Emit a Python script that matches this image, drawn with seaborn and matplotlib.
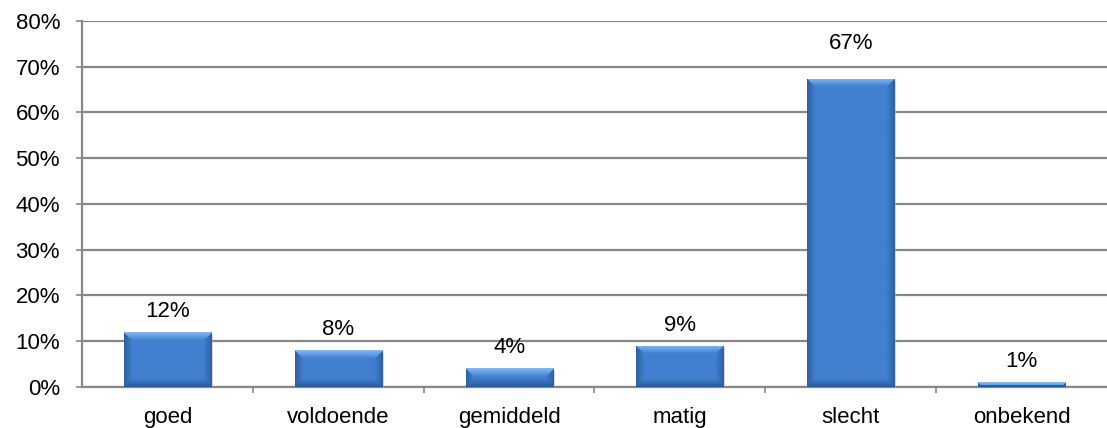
import numpy as np
import pandas as pd
import matplotlib
matplotlib.use("Agg")
import matplotlib.pyplot as plt
import seaborn as sns
from matplotlib.colors import to_rgb

categories = ["goed", "voldoende", "gemiddeld", "matig", "slecht", "onbekend"]
values = [12.0, 8.0, 4.0, 9.0, 67.4, 1.0]
labels = ["12%", "8%", "4%", "9%", "67%", "1%"]
yticks = [0, 10, 20, 30, 40, 50, 60, 70, 80]
ytick_labels = ["0%", "10%", "20%", "30%", "40%", "50%", "60%", "70%", "80%"]

sns.set_theme(style="white")
plt.rcParams["font.family"] = ["Liberation Sans", "DejaVu Sans"]

W, H, DPI = 1107, 428, 100
FS = 16
fig = plt.figure(figsize=(W / DPI, H / DPI), dpi=DPI)
ax = fig.add_axes([82 / W, 1 - 386.7 / H, 1 - 82 / W, (386.7 - 21) / H])

df = pd.DataFrame({"cat": categories, "val": values})
base = "#4080cf"
sns.barplot(data=df, x="cat", y="val", color=base, saturation=1, width=0.51,
            ax=ax, zorder=3, edgecolor="none")

ax.set_xlim(-0.5, len(categories) - 0.5)
ax.set_ylim(0, 80)

grid_c = "#878787"
ax.set_yticks(yticks)
ax.set_yticklabels(ytick_labels)
ax.yaxis.grid(True, color=grid_c, linewidth=1.6, zorder=0)
ax.set_axisbelow(True)
for s in ["top", "right"]:
    ax.spines[s].set_visible(False)
for s in ["left", "bottom"]:
    ax.spines[s].set_color(grid_c)
    ax.spines[s].set_linewidth(1.6)
    ax.spines[s].set_zorder(2)

ax.tick_params(axis="y", which="major", left=True, length=4.3, width=1.2,
               color=grid_c, pad=11.5, labelsize=FS, labelcolor="black")
ax.tick_params(axis="x", which="major", bottom=False, pad=8.5, labelsize=FS,
               labelcolor="black")
ax.set_xticks(np.arange(0.5, len(categories) - 0.5, 1.0), minor=True)
ax.tick_params(axis="x", which="minor", bottom=True, length=4, width=1.2,
               color=grid_c)
ax.set_xlabel("")
ax.set_ylabel("")

# bevel gradient on each bar
bc = np.array(to_rgb(base))
light = np.array(to_rgb("#80b6f4"))
dark = np.array(to_rgb("#2b5a98"))
ppx = (W - 82) / len(categories)          # pixels per category unit
ppy = (386.7 - 21) / 80                   # pixels per percent
bevel = 8
for p in ax.patches:
    x0, w, h = p.get_x(), p.get_width(), p.get_height()
    npx = max(int(round(w * ppx)), 2)
    npy = max(int(round(h * ppy)), 2)
    img = np.zeros((npy, npx, 3))
    for j in range(npy):
        dt = j
        db = npy - 1 - j
        for i in range(npx):
            dl = i
            dr = npx - 1 - i
            d = min(dt, db, dl, dr)
            c = bc.copy()
            if d < bevel:
                f = 1 - d / bevel
                if d == dt:
                    c = bc + (light - bc) * f
                elif d == db:
                    c = bc + (dark - bc) * f
                else:
                    c = bc + (dark - bc) * f * 0.8
            img[j, i] = c
    # shadow
    ax.add_patch(plt.Rectangle((x0 + 2 / ppx, -0.6), w, h, color="#b0b0b0",
                               alpha=0.5, zorder=2.5, lw=0))
    im = ax.imshow(img, extent=(x0, x0 + w, 0, h), aspect="auto",
                   interpolation="bilinear", zorder=3.5, origin="upper")
    im.set_clip_path(p)

ax.set_xlim(-0.5, len(categories) - 0.5)
ax.set_ylim(0, 80)

label_pad_px = [10, 10, 10, 10, 25, 10]
for i, (v, lab) in enumerate(zip(values, labels)):
    ax.annotate(lab, (i, v), xytext=(0, label_pad_px[i] * 72 / DPI),
                textcoords="offset points", ha="center", va="bottom",
                fontsize=FS, color="black", zorder=5)

fig.savefig("out.png", dpi=DPI)
